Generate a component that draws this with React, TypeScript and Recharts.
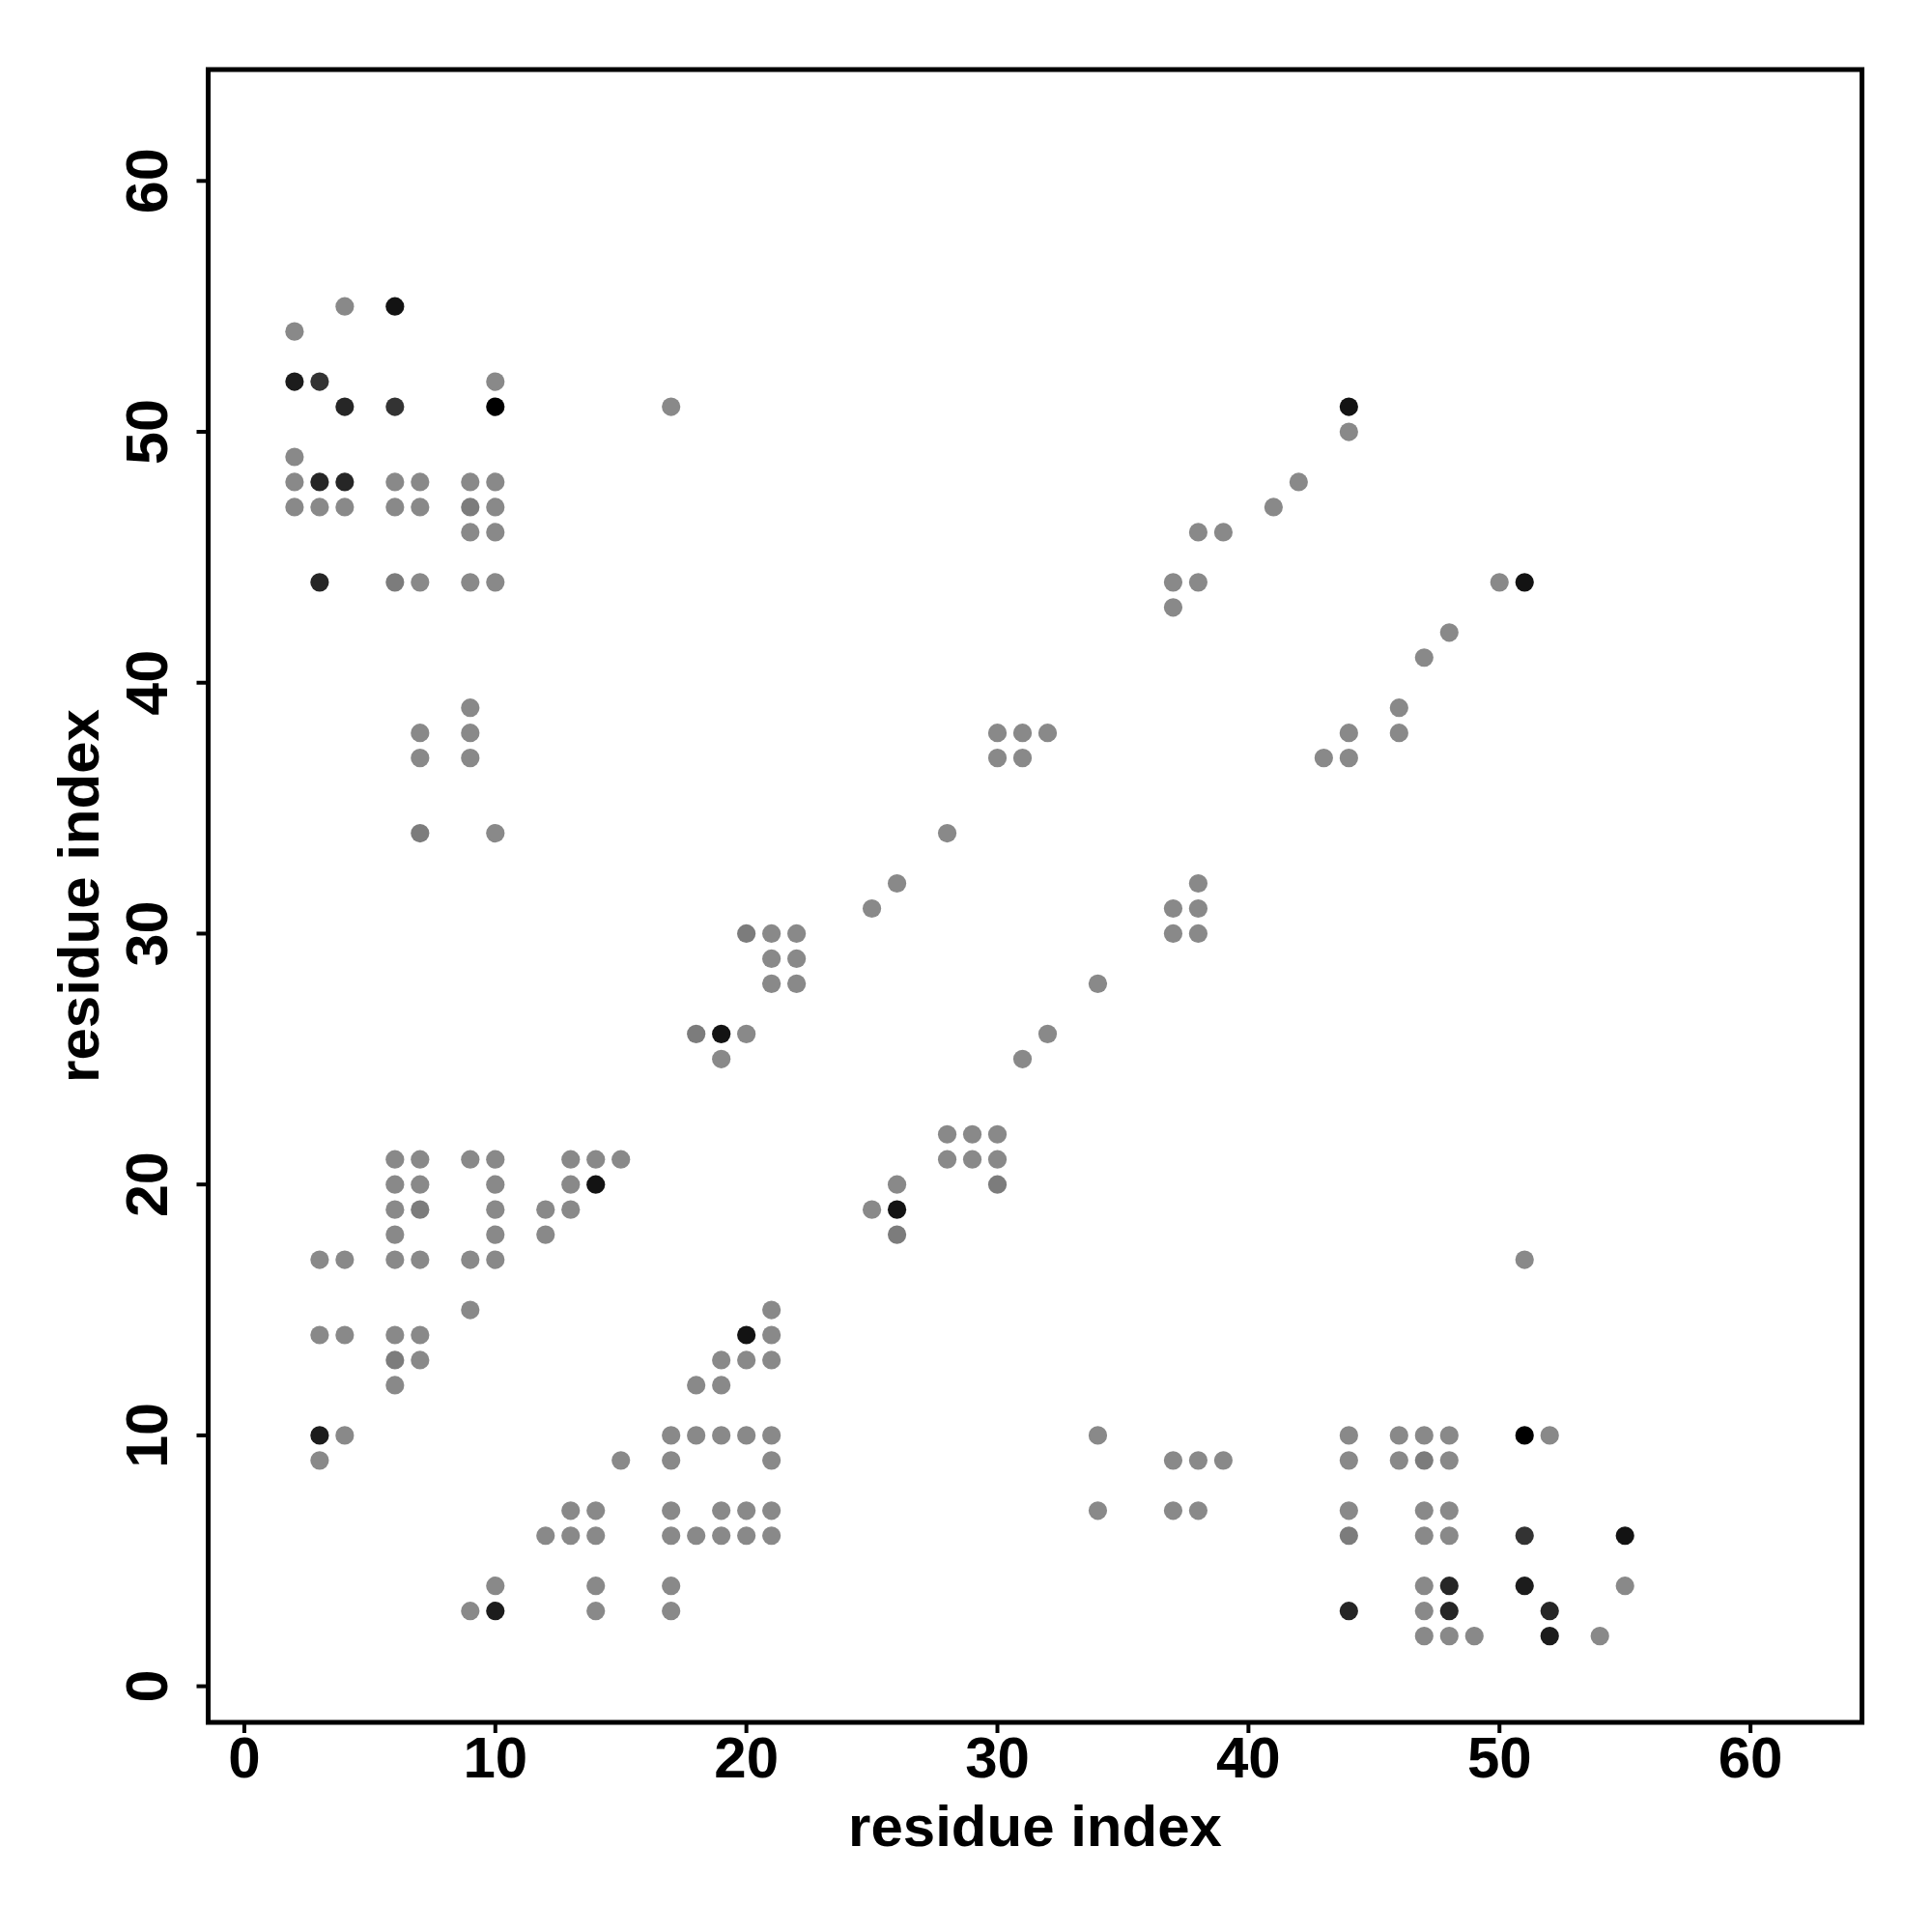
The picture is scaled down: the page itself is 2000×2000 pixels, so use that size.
import React from "react";
import { ScatterChart, Scatter, XAxis, YAxis, ReferenceArea, Label } from "recharts";

// Axis settings
const X_DOMAIN: [number, number] = [-1.44, 64.44];
const Y_DOMAIN: [number, number] = [-1.44, 64.44];
const X_TICKS = [0, 10, 20, 30, 40, 50, 60];
const Y_TICKS = [0, 10, 20, 30, 40, 50, 60];
const X_TITLE = "residue index";
const Y_TITLE = "residue index";

// Contact points grouped by shade (x = residue index, y = residue index)
const grayPts: [number, number][] = [
  [2, 54], [4, 55], [10, 52], [17, 51], [2, 49], [2, 48], [6, 48], [7, 48], [9, 48], [10, 48],
  [2, 47], [3, 47], [4, 47], [6, 47], [7, 47], [10, 47], [9, 46], [10, 46], [7, 44], [9, 44], [10, 44],
  [44, 50], [42, 48], [41, 47], [38, 46], [39, 46], [37, 44], [38, 44], [37, 43], [50, 44],
  [48, 42], [47, 41], [46, 39], [46, 38], [44, 38], [43, 37], [44, 37],
  [7, 38], [7, 37], [9, 39], [9, 38], [9, 37], [10, 34],
  [30, 38], [31, 38], [32, 38], [30, 37], [31, 37], [28, 34], [26, 32], [25, 31],
  [21, 30], [22, 30], [21, 29], [22, 29], [21, 28], [22, 28], [20, 26], [19, 25],
  [34, 28], [32, 26], [31, 25],
  [38, 32], [37, 31], [38, 31], [37, 30], [38, 30],
  [28, 22], [29, 22], [30, 22], [28, 21], [29, 21], [30, 21],
  [26, 20], [25, 19], [51, 17],
  [6, 21], [7, 21], [9, 21], [10, 21], [13, 21], [14, 21], [15, 21],
  [6, 20], [7, 20], [10, 20], [13, 20],
  [6, 19], [10, 19], [12, 19], [13, 19],
  [6, 18], [10, 18], [12, 18],
  [3, 17], [4, 17], [6, 17], [7, 17], [9, 17], [10, 17],
  [9, 15], [21, 15],
  [3, 14], [4, 14], [6, 14], [7, 14], [21, 14],
  [7, 13], [19, 13], [20, 13], [21, 13],
  [6, 12], [18, 12], [19, 12],
  [4, 10], [17, 10], [18, 10], [19, 10], [20, 10], [21, 10],
  [3, 9], [15, 9], [17, 9], [21, 9],
  [13, 7], [14, 7], [17, 7], [19, 7], [20, 7], [21, 7],
  [12, 6], [13, 6], [14, 6], [17, 6], [18, 6], [19, 6], [20, 6], [21, 6],
  [10, 4], [14, 4], [17, 4],
  [9, 3], [14, 3], [17, 3],
  [34, 10], [34, 7], [37, 9], [38, 9], [39, 9], [37, 7], [38, 7],
  [44, 10], [46, 10], [47, 10], [48, 10], [52, 10],
  [44, 9], [46, 9], [48, 9],
  [44, 7], [47, 7], [48, 7],
  [47, 6], [48, 6],
  [47, 4], [55, 4],
  [47, 3],
  [47, 2], [48, 2], [49, 2], [54, 2],
];
const midGrayPts: [number, number][] = [
  [9, 47], [6, 44], [7, 34], [18, 26], [20, 30], [26, 18], [30, 20], [6, 13], [7, 19], [44, 6], [47, 9],
];
const darkPts: [number, number][] = [[3, 52], [6, 51], [51, 6]];
const darkerPts: [number, number][] = [
  [4, 51], [3, 48], [4, 48], [3, 44], [44, 3], [48, 4], [48, 3], [52, 3],
];
const nearBlackPts: [number, number][] = [[2, 52], [3, 10], [10, 3], [51, 4], [52, 2]];
const blackishPts: [number, number][] = [
  [6, 55], [44, 51], [51, 44], [19, 26], [26, 19], [14, 20], [20, 14], [55, 6],
];
const blackPts: [number, number][] = [[10, 51], [51, 10]];

const groups: { name: string; pts: [number, number][]; color: string }[] = [
  { name: "gray", pts: grayPts, color: "#898989" },
  { name: "midgray", pts: midGrayPts, color: "#7c7c7c" },
  { name: "dark", pts: darkPts, color: "#333333" },
  { name: "darker", pts: darkerPts, color: "#262626" },
  { name: "nearblack", pts: nearBlackPts, color: "#1c1c1c" },
  { name: "blackish", pts: blackishPts, color: "#131313" },
  { name: "black", pts: blackPts, color: "#000000" },
];

const FF = '"Liberation Sans", Arial, Helvetica, sans-serif';

const XTick = (props: any) => {
  const { x, y, payload } = props;
  return (
    <text x={x} y={y + 43} textAnchor="middle" fontSize={60} fontWeight="bold" fontFamily={FF} fill="#000">
      {payload.value}
    </text>
  );
};

const YTick = (props: any) => {
  const { x, y, payload } = props;
  return (
    <text
      x={x}
      y={y}
      transform={`rotate(-90 ${x} ${y})`}
      textAnchor="middle"
      fontSize={61}
      fontWeight="bold"
      fontFamily={FF}
      fill="#000"
    >
      {payload.value}
    </text>
  );
};

const Dot = (color: string) => (props: any) => {
  const { cx, cy } = props;
  if (cx == null || cy == null) return <g />;
  return <circle cx={cx} cy={cy} r={9.6} fill={color} />;
};

const W = 1992;
const H = 1992;
const M = { top: 64, right: 72.5, bottom: 0, left: 0 };
const Y_AXIS_W = 207.5;
const X_AXIS_H = 217;

export default function App() {
  const plotW = W - M.left - M.right - Y_AXIS_W;
  const plotH = H - M.top - M.bottom - X_AXIS_H;
  const cx = M.left + Y_AXIS_W + plotW / 2;
  const cy = M.top + plotH / 2;
  return (
    <div style={{ width: W, height: H, background: "#fff" }}>
      <ScatterChart width={W} height={H} margin={M}>
        <XAxis
          type="number"
          dataKey="x"
          domain={X_DOMAIN}
          ticks={X_TICKS}
          allowDataOverflow
          axisLine={false}
          tickLine={{ stroke: "#000", strokeWidth: 4 }}
          tickSize={11}
          tickMargin={3}
          height={X_AXIS_H}
          tick={<XTick />}
          interval={0}
        >
          <Label
            content={() => (
              <text x={cx} y={1903} textAnchor="middle" fontSize={60} fontWeight="bold" fontFamily={FF} fill="#000">
                {X_TITLE}
              </text>
            )}
          />
        </XAxis>
        <YAxis
          type="number"
          dataKey="y"
          domain={Y_DOMAIN}
          ticks={Y_TICKS}
          allowDataOverflow
          axisLine={false}
          tickLine={{ stroke: "#000", strokeWidth: 4 }}
          tickSize={12}
          tickMargin={30.5}
          width={Y_AXIS_W}
          tick={<YTick />}
          interval={0}
        >
          <Label
            content={() => (
              <text
                x={94}
                y={cy}
                transform={`rotate(-90 94 ${cy})`}
                textAnchor="middle"
                fontSize={60}
                fontWeight="bold"
                fontFamily={FF}
                fill="#000"
              >
                {Y_TITLE}
              </text>
            )}
          />
        </YAxis>
        {groups.map((g) => (
          <Scatter
            key={g.name}
            name={g.name}
            data={g.pts.map(([x, y]) => ({ x, y }))}
            fill={g.color}
            shape={Dot(g.color)}
            isAnimationActive={false}
          />
        ))}
        <ReferenceArea
          x1={X_DOMAIN[0]}
          x2={X_DOMAIN[1]}
          y1={Y_DOMAIN[0]}
          y2={Y_DOMAIN[1]}
          fill="none"
          fillOpacity={0}
          stroke="#000"
          strokeWidth={5}
          ifOverflow="visible"
        />
      </ScatterChart>
    </div>
  );
}
